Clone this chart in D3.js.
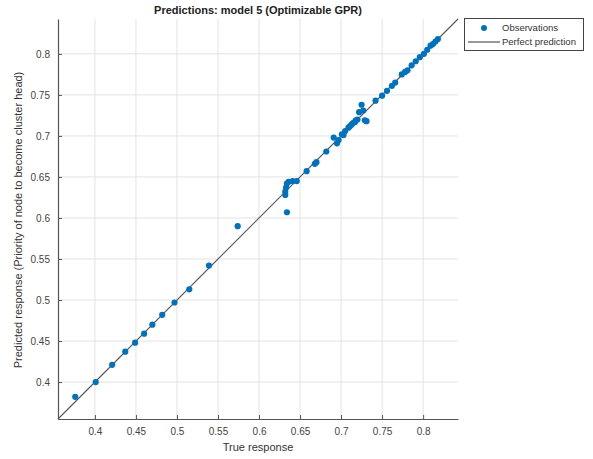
<!DOCTYPE html>
<html>
<head>
<meta charset="utf-8">
<script src="https://cdn.jsdelivr.net/npm/d3@7"></script>
<style>
html,body{margin:0;padding:0;background:#fff;}
svg{display:block;font-family:"Liberation Sans",Arial,sans-serif;}
</style>
</head>
<body>
<svg id="chart" width="593" height="459"></svg>
<script>
const titleText = "Predictions: model 5 (Optimizable GPR)";
const xLabel = "True response";
const yLabel = "Predicted response (Priority of node to become cluster head)";
const axisDomain = [0.355, 0.8425];
const tickValues = [0.4, 0.45, 0.5, 0.55, 0.6, 0.65, 0.7, 0.75, 0.8];
const tickLabels = ["0.4", "0.45", "0.5", "0.55", "0.6", "0.65", "0.7", "0.75", "0.8"];
const trueResp = [0.376, 0.401, 0.421, 0.437, 0.449, 0.460, 0.470, 0.482, 0.497, 0.515, 0.539, 0.574,
  0.634, 0.632, 0.632, 0.633, 0.634, 0.636, 0.641, 0.646, 0.658, 0.668, 0.670, 0.682,
  0.691, 0.695, 0.697, 0.701, 0.703, 0.705, 0.709, 0.711, 0.713, 0.715, 0.717, 0.718, 0.720,
  0.722, 0.725, 0.727, 0.729, 0.731, 0.742, 0.750, 0.756, 0.762, 0.766, 0.774, 0.778,
  0.781, 0.786, 0.791, 0.796, 0.801, 0.805, 0.809, 0.812, 0.815, 0.818];
const predResp = [0.382, 0.400, 0.421, 0.437, 0.448, 0.459, 0.470, 0.482, 0.497, 0.513, 0.542, 0.590,
  0.607, 0.628, 0.632, 0.637, 0.642, 0.644, 0.645, 0.645, 0.657, 0.666, 0.668, 0.681,
  0.698, 0.691, 0.695, 0.702, 0.701, 0.706, 0.710, 0.712, 0.714, 0.716, 0.717, 0.719, 0.720,
  0.729, 0.738, 0.731, 0.719, 0.718, 0.743, 0.749, 0.755, 0.761, 0.765, 0.775, 0.778,
  0.780, 0.786, 0.791, 0.796, 0.800, 0.805, 0.810, 0.812, 0.815, 0.818];
const legendLabels = ["Observations", "Perfect prediction"];

const svg = d3.select("#chart");
const L = 58, R = 458, T = 19, B = 419;
const x = d3.scaleLinear().domain(axisDomain).range([L, R]);
const y = d3.scaleLinear().domain(axisDomain).range([B, T]);
const blue = "#0072BD";

// grid
const g = svg.append("g");
g.selectAll(".gx").data(tickValues).join("line")
  .attr("x1", d => x(d)).attr("x2", d => x(d)).attr("y1", T).attr("y2", B)
  .attr("stroke", "#e3e3e3").attr("stroke-width", 1);
g.selectAll(".gy").data(tickValues).join("line")
  .attr("x1", L).attr("x2", R).attr("y1", d => y(d)).attr("y2", d => y(d))
  .attr("stroke", "#e3e3e3").attr("stroke-width", 1);

// axes
const xAxis = d3.axisBottom(x).tickValues(tickValues).tickFormat((d, i) => tickLabels[i])
  .tickSizeInner(-4).tickSizeOuter(0).tickPadding(9);
const yAxis = d3.axisLeft(y).tickValues(tickValues).tickFormat((d, i) => tickLabels[i])
  .tickSizeInner(-4).tickSizeOuter(0).tickPadding(8);
const gx = svg.append("g").attr("transform", `translate(0,${B})`).call(xAxis);
const gy = svg.append("g").attr("transform", `translate(${L},0)`).call(yAxis);
[gx, gy].forEach(a => {
  a.select(".domain").attr("stroke", "#555").attr("stroke-width", 1.2);
  a.selectAll(".tick line").attr("stroke", "#555");
  a.selectAll(".tick text").attr("fill", "#444").style("font-size", "10px")
    .style("font-family", "'Liberation Sans',Arial,sans-serif");
});

// diagonal
svg.append("line")
  .attr("x1", x(axisDomain[0])).attr("y1", y(axisDomain[0]))
  .attr("x2", x(axisDomain[1])).attr("y2", y(axisDomain[1]))
  .attr("stroke", "#555").attr("stroke-width", 1.1);

// points
svg.append("g").selectAll("circle").data(trueResp).join("circle")
  .attr("cx", d => x(d)).attr("cy", (d, i) => y(predResp[i])).attr("r", 3.1)
  .attr("fill", blue);

// title & labels
svg.append("text").attr("x", (L + R) / 2).attr("y", 14).attr("text-anchor", "middle")
  .style("font-size", "11px").style("font-weight", "bold").attr("fill", "#222").text(titleText);
svg.append("text").attr("x", (L + R) / 2).attr("y", 451).attr("text-anchor", "middle")
  .style("font-size", "11px").attr("fill", "#333").text(xLabel);
svg.append("text").attr("transform", `translate(22,${(T + B) / 2 + 1}) rotate(-90)`)
  .attr("text-anchor", "middle").style("font-size", "11px").attr("fill", "#333").text(yLabel);

// legend
const lg = svg.append("g");
lg.append("rect").attr("x", 464.5).attr("y", 18.5).attr("width", 119).attr("height", 32)
  .attr("fill", "#fff").attr("stroke", "#444").attr("stroke-width", 1);
lg.append("circle").attr("cx", 484).attr("cy", 28).attr("r", 3).attr("fill", blue);
lg.append("line").attr("x1", 468).attr("x2", 500).attr("y1", 42).attr("y2", 42)
  .attr("stroke", "#333").attr("stroke-width", 1);
lg.selectAll("text").data(legendLabels).join("text")
  .attr("x", 502).attr("y", (d, i) => 31 + i * 14)
  .style("font-size", "9.5px").attr("fill", "#333").text(d => d);
</script>
</body>
</html>
